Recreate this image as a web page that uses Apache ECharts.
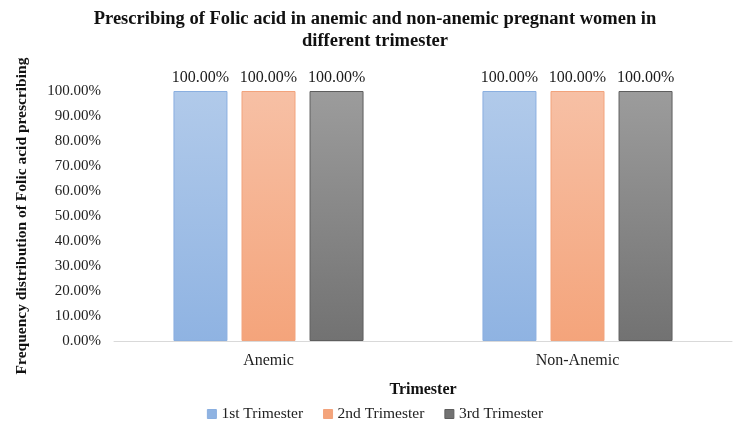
<!DOCTYPE html>
<html>
<head>
    <meta charset="UTF-8"/>
    <title>Folic acid prescribing</title>
    <style>
        html, body{ margin: 0; }
    </style>
    <script src="https://cdn.jsdelivr.net/npm/echarts@6/dist/echarts.min.js"></script>
</head>
<body>
<div id="container" style="width: 750px;height: 422px;"></div>
<script>
  var categories = ['Anemic', 'Non-Anemic'];
  var seriesNames = ['1st Trimester', '2nd Trimester', '3rd Trimester'];
  var first = [1.0, 1.0];
  var second = [1.0, 1.0];
  var third = [1.0, 1.0];

  var font = 'Liberation Serif, Times New Roman, serif';
  // top / bottom gradient colours + border per trimester
  var colours = [
      ['#b1caea', '#8fb3e2', '#8aafe0'],
      ['#f7c0a5', '#f4a47b', '#f2a37c'],
      ['#9c9c9c', '#727272', '#5e5e5e']
  ];

  function pct(v) { return (v * 100).toFixed(2) + '%'; }

  function makeSeries(name, data, c) {
      return {
          name: name,
          type: 'bar',
          data: data,
          barWidth: 54,
          barGap: '26%',
          itemStyle: {
              color: new echarts.graphic.LinearGradient(0, 0, 0, 1, [
                  {offset: 0, color: c[0]}, {offset: 1, color: c[1]}
              ]),
              borderColor: c[2],
              borderWidth: 1
          },
          label: {
              show: true,
              position: 'top',
              distance: 5,
              formatter: function (p) { return pct(p.value); },
              fontFamily: font,
              fontSize: 16,
              color: '#1a1a1a'
          }
      };
  }

  var myChart = echarts.init(document.getElementById('container'));
  var option = {
      backgroundColor: '#fff',
      animation: false,
      title: {
          text: 'Prescribing of Folic acid in anemic and non-anemic pregnant women in\ndifferent trimester',
          left: 'center',
          top: 3,
          textStyle: {
              fontFamily: font, fontSize: 18.5, fontWeight: 'bold', color: '#111', lineHeight: 22
          }
      },
      legend: {
          top: 401,
          left: 'center',
          itemWidth: 9,
          itemHeight: 9,
          itemGap: 20,
          icon: 'rect',
          textStyle: { fontFamily: font, fontSize: 15.5, color: '#222' },
          data: seriesNames.map(function (n, i) {
              return { name: n, itemStyle: { color: colours[i][1], borderColor: colours[i][2], borderWidth: 1 } };
          })
      },
      grid: { left: 114, right: 18, top: 91, bottom: 81 },
      xAxis: {
          type: 'category',
          data: categories,
          name: 'Trimester',
          nameLocation: 'middle',
          nameGap: 41,
          nameTextStyle: { fontFamily: font, fontSize: 16, fontWeight: 'bold', color: '#111' },
          axisLine: { lineStyle: { color: '#d9d9d9' } },
          axisTick: { show: false },
          axisLabel: { fontFamily: font, fontSize: 16, color: '#222', margin: 12 }
      },
      yAxis: {
          type: 'value',
          min: 0,
          max: 1,
          interval: 0.1,
          name: 'Frequency distribution of Folic acid prescribing',
          nameLocation: 'middle',
          nameGap: 84,
          nameTextStyle: { fontFamily: font, fontSize: 15.5, fontWeight: 'bold', color: '#111' },
          splitLine: { show: false },
          axisLine: { show: false },
          axisTick: { show: false },
          axisLabel: { formatter: pct, fontFamily: font, fontSize: 15, color: '#222', margin: 13 }
      },
      series: [
          makeSeries(seriesNames[0], first, colours[0]),
          makeSeries(seriesNames[1], second, colours[1]),
          makeSeries(seriesNames[2], third, colours[2])
      ]
  };
  myChart.setOption(option);
</script>
</body>
</html>
